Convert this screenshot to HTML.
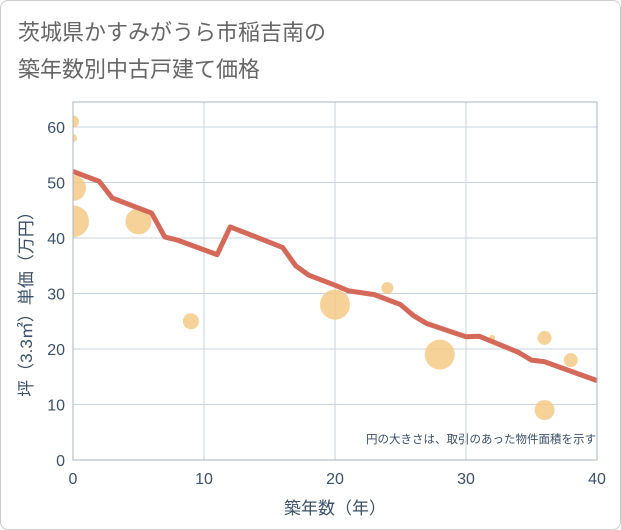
<!DOCTYPE html>
<html><head><meta charset="utf-8"><style>
body{margin:0;background:#fff;font-family:"Liberation Sans","Noto Sans CJK JP",sans-serif}
#wrap{position:relative;width:619px;height:528px;border:1px solid #ccc;border-radius:8px;background:#fff;overflow:hidden}
</style></head><body>
<div id="wrap">
<svg id="c" width="621" height="530" style="position:absolute;left:-1px;top:-1px">
<defs><clipPath id="pc"><rect x="73" y="102" width="524" height="358"/></clipPath></defs>
<text x="18" y="40" font-size="22" fill="#666">茨城県かすみがうら市稲吉南の</text>
<text x="18" y="77" font-size="22" fill="#666">築年数別中古戸建て価格</text>
<g id="grid"></g><g id="bubbles" clip-path="url(#pc)"></g><g id="line"></g><g id="axes"></g>
<text x="596" y="443" font-size="11.5" fill="#3a5068" text-anchor="end">円の大きさは、取引のあった物件面積を示す</text>
<text x="335" y="514" font-size="17" fill="#3a5068" text-anchor="middle">築年数（年）</text>
<text transform="translate(32,300) rotate(-90)" font-size="17" fill="#3a5068" text-anchor="middle">坪（3.3㎡）単価（万円）</text>
</svg></div>
<script>
const xTicks=[0,10,20,30,40];
const yTicks=[0,10,20,30,40,50,60];
const lineX=[0,2,3,6,7,8,11,12,16,17,18,20,21,23,25,26,27,29,30,31,34,35,36,40];
const lineY=[52,50.2,47.2,44.5,40.2,39.6,37,42,38.3,35,33.3,31.5,30.5,29.8,28,26,24.6,23,22.2,22.3,19.4,18,17.7,14.3];
const bubX=[0,0,0,0,5,9,20,24,28,32,36,36,38];
const bubY=[61,58,49,43,43,25,28,31,19,22,22,9,18];
const bubR=[6,4,13,16,13,8,15,6,15,3,7,10,7];
const X0=73,X1=597,Y0=460,Y1=127;
const sx=v=>X0+(v-0)/40*(X1-X0);
const sy=v=>Y0-(v/60)*(Y0-Y1);
const NS="http://www.w3.org/2000/svg";
function mk(t,a,p){const e=document.createElementNS(NS,t);for(const k in a)e.setAttribute(k,a[k]);p.appendChild(e);return e;}
const g=document.getElementById('grid'),ax=document.getElementById('axes');
yTicks.forEach(v=>{const l=mk('line',{x1:X0,x2:X1,y1:sy(v),y2:sy(v),stroke:'#c8d3e0','stroke-width':1},g);


const t=mk('text',{x:X0-8,y:sy(v)+6,'font-size':16,fill:'#3a5068','text-anchor':'end'},ax);t.textContent=v;

});
xTicks.forEach(v=>{const l=mk('line',{x1:sx(v),x2:sx(v),y1:102,y2:Y0,stroke:'#c8d3e0','stroke-width':1},g);


const t=mk('text',{x:sx(v),y:Y0+24,'font-size':16,fill:'#3a5068','text-anchor':'middle'},ax);t.textContent=v;

});
const fr=mk('rect',{x:X0,y:102,width:X1-X0,height:Y0-102,fill:'none',stroke:'#aab4c0','stroke-width':1},ax);


const bg=document.getElementById('bubbles');
bubX.forEach((v,i)=>{const c=mk('circle',{cx:sx(v),cy:sy(bubY[i]),r:bubR[i],fill:'#f5c77e','fill-opacity':0.8},bg);

});
const pl=mk('polyline',{points:lineX.map((v,i)=>sx(v)+','+sy(lineY[i])).join(' '),fill:'none',stroke:'#d4695a','stroke-width':5,'stroke-linejoin':'round'},document.getElementById('line'));


</script>
</body></html>
